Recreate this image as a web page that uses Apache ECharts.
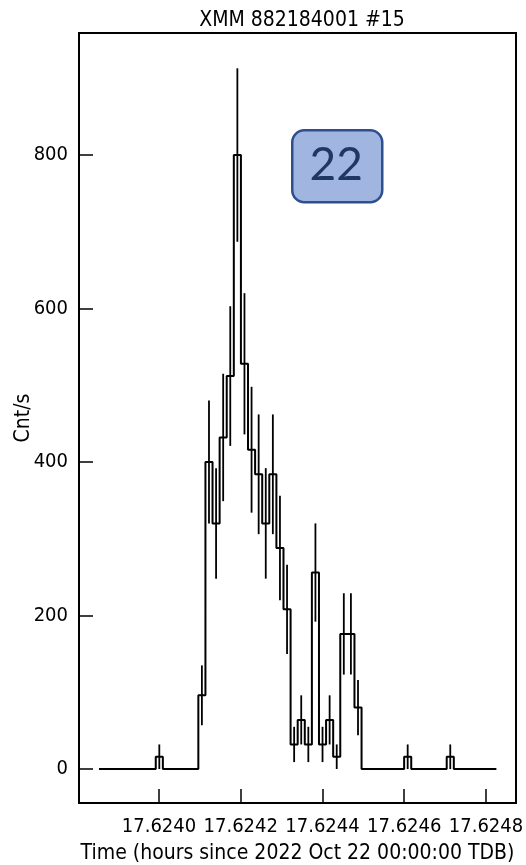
<!DOCTYPE html>
<html><head><meta charset="utf-8">
<script src="https://cdn.jsdelivr.net/npm/echarts@6/dist/echarts.min.js"></script>
<style>html,body{margin:0;padding:0;background:#fff}#c{width:526px;height:865px}</style>
</head><body><div id="c"></div>
<script>
const chartTitle = 'XMM 882184001 #15';
const xName = 'Time (hours since 2022 Oct 22 00:00:00 TDB)';
const yName = 'Cnt/s';
const annotationText = '22';
// bin edges (hours), 56 bins of 0.0625 s
const binEdges = [17.62385320, 17.62387056, 17.62388792, 17.62390528, 17.62392264, 17.62394001, 17.62395737, 17.62397473,
  17.62399209, 17.62400945, 17.62402681, 17.62404417, 17.62406153, 17.62407889, 17.62409626, 17.62411362,
  17.62413098, 17.62414834, 17.62416570, 17.62418306, 17.62420042, 17.62421778, 17.62423514, 17.62425251,
  17.62426987, 17.62428723, 17.62430459, 17.62432195, 17.62433931, 17.62435667, 17.62437403, 17.62439139,
  17.62440876, 17.62442612, 17.62444348, 17.62446084, 17.62447820, 17.62449556, 17.62451292, 17.62453028,
  17.62454764, 17.62456501, 17.62458237, 17.62459973, 17.62461709, 17.62463445, 17.62465181, 17.62466917,
  17.62468653, 17.62470389, 17.62472126, 17.62473862, 17.62475598, 17.62477334, 17.62479070, 17.62480806,
  17.62482542];
const rates = [0, 0, 0, 0, 0, 0, 0, 0,
  16, 0, 0, 0, 0, 0, 96, 400,
  320, 432, 512, 800, 528, 416, 384, 320,
  384, 288, 208, 32, 64, 32, 256, 32,
  64, 16, 176, 176, 80, 0, 0, 0,
  0, 0, 0, 16, 0, 0, 0, 0,
  0, 16, 0, 0, 0, 0, 0, 0];
const rateErrors = [0, 0, 0, 0, 0, 0, 0, 0,
  16, 0, 0, 0, 0, 0, 39, 80,
  72, 83, 91, 113, 92, 82, 78, 72,
  78, 68, 58, 23, 32, 23, 64, 23,
  32, 16, 53, 53, 36, 0, 0, 0,
  0, 0, 0, 16, 0, 0, 0, 0,
  0, 16, 0, 0, 0, 0, 0, 0];
const xTicks = [17.6240, 17.6242, 17.6244, 17.6246, 17.6248];
const yTicks = [0, 200, 400, 600, 800];

const FONT = '"DejaVu Sans Condensed", "DejaVu Sans", sans-serif';

const stepData = binEdges.map((t, i) => [t, i < rates.length ? rates[i] : rates[rates.length - 1]]);
const errData = [];
for (let i = 0; i < rates.length; i++) {
  if (rateErrors[i] > 0) errData.push([(binEdges[i] + binEdges[i + 1]) / 2, rates[i], rateErrors[i]]);
}
const near = (arr, v, eps) => arr.some(a => Math.abs(a - v) < eps);

const chart = echarts.init(document.getElementById('c'), null, {renderer: 'canvas'});
chart.setOption({
  animation: false,
  backgroundColor: '#fff',
  title: {
    text: chartTitle, left: 297, top: 5, textAlign: 'center',
    textStyle: {fontFamily: FONT, fontSize: 21, fontWeight: 'normal', color: '#000'}
  },
  grid: {left: 79, right: 10, top: 33, bottom: 62, show: true, borderColor: '#000', borderWidth: 2,
    backgroundColor: 'transparent', containLabel: false, outerBoundsMode: 'none'},
  xAxis: {
    type: 'value', min: 17.6238043, max: 17.6248734, splitNumber: 5,
    name: xName, nameLocation: 'middle', nameGap: 40, nameMoveOverlap: false,
    nameTextStyle: {fontFamily: FONT, fontSize: 21, color: '#000'},
    axisLine: {onZero: false, lineStyle: {color: '#000', width: 2}},
    axisTick: {inside: true, length: 14, lineStyle: {color: '#000', width: 1.5}},
    axisLabel: {margin: 14, fontFamily: FONT, fontSize: 20, color: '#000',
      formatter: v => near(xTicks, v, 1e-7) ? v.toFixed(4) : ''},
    splitLine: {show: false}
  },
  yAxis: {
    type: 'value', min: -44.3, max: 959, splitNumber: 5,
    name: yName, nameLocation: 'middle', nameGap: 45, nameMoveOverlap: false,
    nameTextStyle: {fontFamily: FONT, fontSize: 21, color: '#000'},
    axisLine: {onZero: false, lineStyle: {color: '#000', width: 2}},
    axisTick: {inside: true, length: 14, lineStyle: {color: '#000', width: 1.5}},
    axisLabel: {margin: 11, fontFamily: FONT, fontSize: 20, color: '#000',
      formatter: v => near(yTicks, v, 1e-6) ? String(Math.round(v)) : ''},
    splitLine: {show: false}
  },
  series: [
    {
      type: 'line', step: 'end', data: stepData, showSymbol: false, symbol: 'none',
      lineStyle: {color: '#000', width: 2}, z: 3
    },
    {
      type: 'custom', data: errData, z: 4,
      renderItem: (params, api) => {
        const x = api.value(0), y = api.value(1), e = api.value(2);
        const p1 = api.coord([x, y - e]), p2 = api.coord([x, y + e]);
        return {type: 'line', shape: {x1: p1[0], y1: p1[1], x2: p2[0], y2: p2[1]},
          style: {stroke: '#000', lineWidth: 1.8}};
      }
    }
  ],
  graphic: [{
    type: 'group', left: 291, top: 129, z: 10,
    children: [
      {type: 'rect', shape: {x: 0, y: 0, width: 90, height: 72, r: 12},
        style: {fill: '#a1b5e1', stroke: '#2f4f8f', lineWidth: 2.5}},
      {type: 'text', style: {text: annotationText, x: 44, y: 35, align: 'center', verticalAlign: 'middle',
        font: '46px Lato, "Open Sans", sans-serif', fill: '#1f3763'}}
    ]
  }]
});
</script>
</body></html>
